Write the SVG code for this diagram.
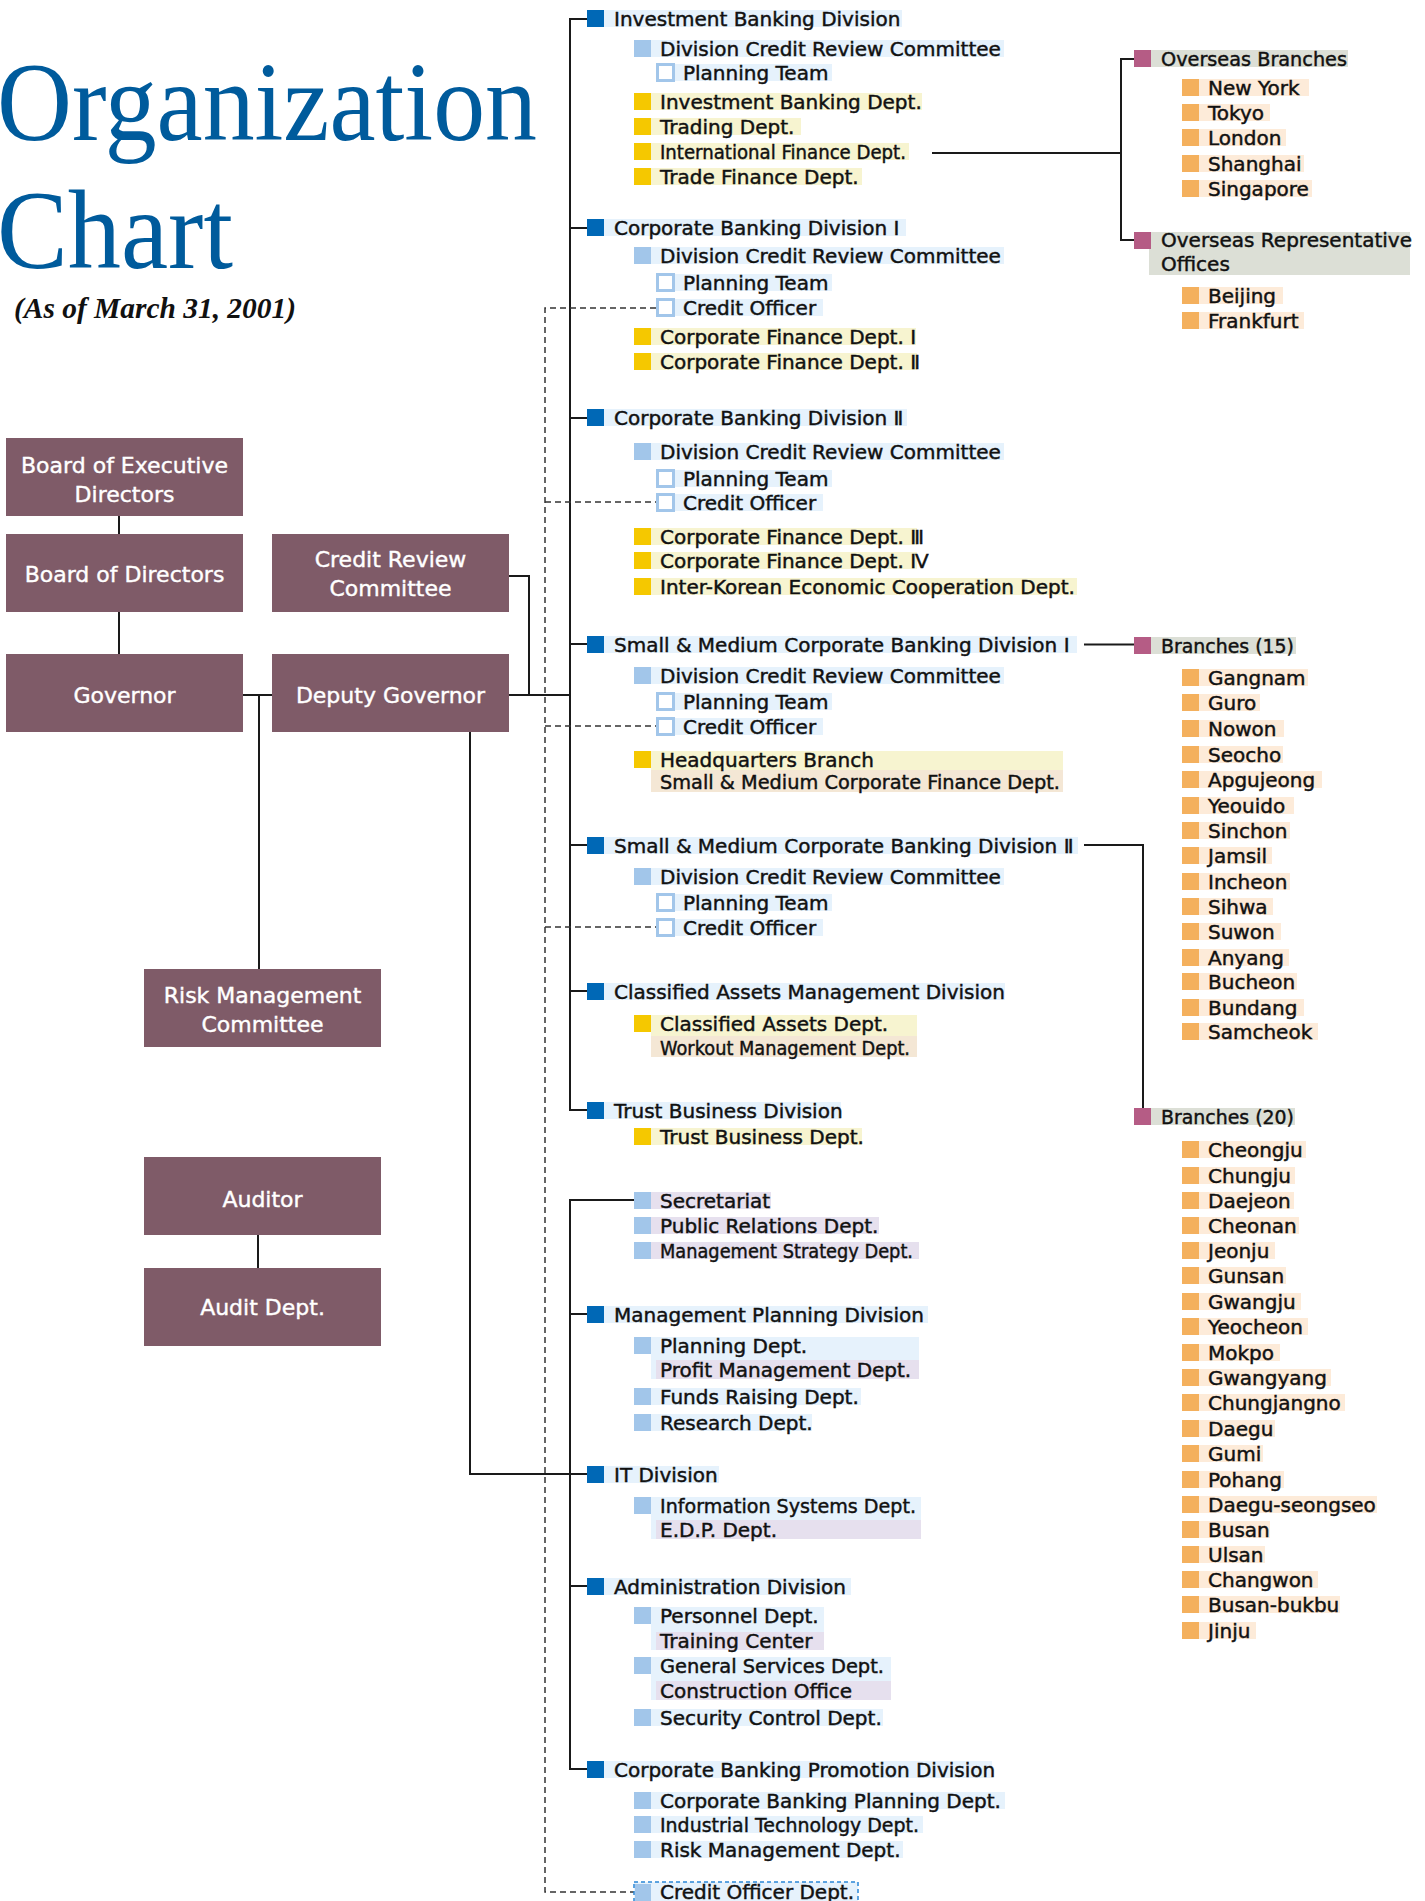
<svg xmlns="http://www.w3.org/2000/svg" width="1425" height="1901" viewBox="0 0 1425 1901">
<style>
.ln{stroke:#1a1a1a;stroke-width:2;fill:none}
.dash{stroke:#333;stroke-width:1.5;stroke-dasharray:6 4;fill:none}
.box{fill:#7f5b68}
.bt{fill:#fff;stroke:#fff;stroke-width:0.4;font-family:"DejaVu Sans",sans-serif;font-size:22px;text-anchor:middle}
.t{font-family:"DejaVu Sans",sans-serif;font-size:20px;fill:#111;stroke:#111;stroke-width:0.45}
.sd{fill:#0068b6}.sl{fill:#a2c6ea}.sy{fill:#f5c800}.sp{fill:#b55c85}.so{fill:#f4b05d}
.ol{fill:#fff;stroke:#a2c6ea;stroke-width:3}
.bb{fill:#e6f2fc}.by{fill:#f7f4d0}.be{fill:#f4e7d5}.bg{fill:#dcdfd6}.bp{fill:#fdebd9}.bl{fill:#e6e0ee}
.ti{font-family:"Liberation Serif",serif;fill:#005b9c}
</style>
<g id="title">
<text class="ti" x="-3" y="140" font-size="112" textLength="540" lengthAdjust="spacingAndGlyphs">Organization</text>
<text class="ti" x="-3" y="268" font-size="112" textLength="236" lengthAdjust="spacingAndGlyphs">Chart</text>
<text x="14" y="318" font-family="Liberation Serif" font-style="italic" font-weight="bold" font-size="29" fill="#111" textLength="282" lengthAdjust="spacingAndGlyphs">(As of March 31, 2001)</text>
</g>
<g id="connectors">
<path class="ln" d="M119 516V534M119 612V654M243 695H272M259 695V969M258 1235V1268M509 576H529V695M509 695H570"/>
<path class="ln" d="M587 19H570V1110H587M570 228H587M570 418H587M570 644H587M570 845H587M570 991H587"/>
<path class="ln" d="M470 732V1474H587M634 1200H570V1769H587M570 1314H587M570 1586H587"/>
<path class="ln" d="M932 153H1121M1134 59H1121V240H1134M1084 644.5H1134M1084 845H1143V1108"/>
<path class="dash" d="M656 308H545V1892H634M545 502H656M545 726H656M545 927H656"/>
</g>
<g id="board-exec"><rect class="box" x="6" y="438" width="237" height="78"/><text class="bt" x="124.5" y="473">Board of Executive</text><text class="bt" x="124.5" y="502">Directors</text></g>
<g id="board"><rect class="box" x="6" y="534" width="237" height="78"/><text class="bt" x="124.5" y="582">Board of Directors</text></g>
<g id="credit-review"><rect class="box" x="272" y="534" width="237" height="78"/><text class="bt" x="390.5" y="567">Credit Review</text><text class="bt" x="390.5" y="596">Committee</text></g>
<g id="governor"><rect class="box" x="6" y="654" width="237" height="78"/><text class="bt" x="124.5" y="703">Governor</text></g>
<g id="deputy"><rect class="box" x="272" y="654" width="237" height="78"/><text class="bt" x="390.5" y="703">Deputy Governor</text></g>
<g id="risk"><rect class="box" x="144" y="969" width="237" height="78"/><text class="bt" x="262.5" y="1003">Risk Management</text><text class="bt" x="262.5" y="1032">Committee</text></g>
<g id="auditor"><rect class="box" x="144" y="1157" width="237" height="78"/><text class="bt" x="262.5" y="1207">Auditor</text></g>
<g id="audit-dept"><rect class="box" x="144" y="1268" width="237" height="78"/><text class="bt" x="262.5" y="1315">Audit Dept.</text></g>

<g id="ib-div"><rect class="bb" x="604" y="10" width="298" height="17"/><rect class="sd" x="587" y="10" width="17" height="17"/><text class="t" x="614" y="26">Investment Banking Division</text>
<rect class="bb" x="651" y="40" width="353" height="17"/><rect class="sl" x="634" y="40" width="17" height="17"/><text class="t" x="660" y="55.5">Division Credit Review Committee</text>
<rect class="bb" x="667" y="64" width="165" height="17"/><rect class="ol" x="657.5" y="64.5" width="16" height="16"/><text class="t" x="683" y="79.5">Planning Team</text>
<rect class="by" x="651" y="93" width="271" height="17"/><rect class="sy" x="634" y="93" width="17" height="17"/><text class="t" x="660" y="108.5">Investment Banking Dept.</text>
<rect class="by" x="651" y="118" width="150" height="17"/><rect class="sy" x="634" y="118" width="17" height="17"/><text class="t" x="660" y="133.5">Trading Dept.</text>
<rect class="by" x="651" y="143" width="258" height="17"/><rect class="sy" x="634" y="143" width="17" height="17"/><text class="t" x="660" y="158.5" textLength="246" lengthAdjust="spacingAndGlyphs">International Finance Dept.</text>
<rect class="by" x="651" y="168" width="211" height="17"/><rect class="sy" x="634" y="168" width="17" height="17"/><text class="t" x="660" y="183.5">Trade Finance Dept.</text></g>

<g id="cb1-div"><rect class="bb" x="604" y="219" width="302" height="17"/><rect class="sd" x="587" y="219" width="17" height="17"/><text class="t" x="614" y="235">Corporate Banking Division Ⅰ</text>
<rect class="bb" x="651" y="247" width="353" height="17"/><rect class="sl" x="634" y="247" width="17" height="17"/><text class="t" x="660" y="262.5">Division Credit Review Committee</text>
<rect class="bb" x="667" y="274" width="165" height="17"/><rect class="ol" x="657.5" y="274.5" width="16" height="16"/><text class="t" x="683" y="289.5">Planning Team</text>
<rect class="bb" x="667" y="299" width="156" height="17"/><rect class="ol" x="657.5" y="299.5" width="16" height="16"/><text class="t" x="683" y="314.5">Credit Officer</text>
<rect class="by" x="651" y="328" width="265" height="17"/><rect class="sy" x="634" y="328" width="17" height="17"/><text class="t" x="660" y="343.5">Corporate Finance Dept. Ⅰ</text>
<rect class="by" x="651" y="353" width="266" height="17"/><rect class="sy" x="634" y="353" width="17" height="17"/><text class="t" x="660" y="368.5">Corporate Finance Dept. Ⅱ</text></g>

<g id="cb2-div"><rect class="bb" x="604" y="409" width="303" height="17"/><rect class="sd" x="587" y="409" width="17" height="17"/><text class="t" x="614" y="425">Corporate Banking Division Ⅱ</text>
<rect class="bb" x="651" y="443" width="353" height="17"/><rect class="sl" x="634" y="443" width="17" height="17"/><text class="t" x="660" y="458.5">Division Credit Review Committee</text>
<rect class="bb" x="667" y="470" width="165" height="17"/><rect class="ol" x="657.5" y="470.5" width="16" height="16"/><text class="t" x="683" y="485.5">Planning Team</text>
<rect class="bb" x="667" y="494" width="156" height="17"/><rect class="ol" x="657.5" y="494.5" width="16" height="16"/><text class="t" x="683" y="509.5">Credit Officer</text>
<rect class="by" x="651" y="528" width="266" height="17"/><rect class="sy" x="634" y="528" width="17" height="17"/><text class="t" x="660" y="543.5">Corporate Finance Dept. Ⅲ</text>
<rect class="by" x="651" y="552" width="266" height="17"/><rect class="sy" x="634" y="552" width="17" height="17"/><text class="t" x="660" y="567.5">Corporate Finance Dept. Ⅳ</text>
<rect class="by" x="651" y="578" width="426" height="17"/><rect class="sy" x="634" y="578" width="17" height="17"/><text class="t" x="660" y="593.5">Inter-Korean Economic Cooperation Dept.</text></g>

<g id="smcb1-div"><rect class="bb" x="604" y="636" width="473" height="17"/><rect class="sd" x="587" y="636" width="17" height="17"/><text class="t" x="614" y="652">Small &amp; Medium Corporate Banking Division Ⅰ</text>
<rect class="bb" x="651" y="667" width="353" height="17"/><rect class="sl" x="634" y="667" width="17" height="17"/><text class="t" x="660" y="682.5">Division Credit Review Committee</text>
<rect class="bb" x="667" y="693" width="165" height="17"/><rect class="ol" x="657.5" y="693.5" width="16" height="16"/><text class="t" x="683" y="708.5">Planning Team</text>
<rect class="bb" x="667" y="718" width="156" height="17"/><rect class="ol" x="657.5" y="718.5" width="16" height="16"/><text class="t" x="683" y="733.5">Credit Officer</text>
<rect class="by" x="651" y="751" width="412" height="19"/><rect class="be" x="651" y="770" width="412" height="22"/><rect class="sy" x="634" y="751" width="17" height="17"/><text class="t" x="660" y="766.5">Headquarters Branch</text><text class="t" x="660" y="789" textLength="400" lengthAdjust="spacingAndGlyphs">Small &amp; Medium Corporate Finance Dept.</text></g>

<g id="smcb2-div"><rect class="bb" x="604" y="837" width="474" height="17"/><rect class="sd" x="587" y="837" width="17" height="17"/><text class="t" x="614" y="853">Small &amp; Medium Corporate Banking Division Ⅱ</text>
<rect class="bb" x="651" y="868" width="353" height="17"/><rect class="sl" x="634" y="868" width="17" height="17"/><text class="t" x="660" y="883.5">Division Credit Review Committee</text>
<rect class="bb" x="667" y="894" width="165" height="17"/><rect class="ol" x="657.5" y="894.5" width="16" height="16"/><text class="t" x="683" y="909.5">Planning Team</text>
<rect class="bb" x="667" y="919" width="156" height="17"/><rect class="ol" x="657.5" y="919.5" width="16" height="16"/><text class="t" x="683" y="934.5">Credit Officer</text></g>

<g id="cam-div"><rect class="bb" x="604" y="983" width="401" height="17"/><rect class="sd" x="587" y="983" width="17" height="17"/><text class="t" x="614" y="999">Classified Assets Management Division</text>
<rect class="by" x="651" y="1015" width="266" height="21"/><rect class="be" x="651" y="1036" width="266" height="21"/><rect class="sy" x="634" y="1015" width="17" height="17"/><text class="t" x="660" y="1030.5">Classified Assets Dept.</text><text class="t" x="660" y="1055" textLength="250" lengthAdjust="spacingAndGlyphs">Workout Management Dept.</text></g>

<g id="tb-div"><rect class="bb" x="604" y="1102" width="237" height="17"/><rect class="sd" x="587" y="1102" width="17" height="17"/><text class="t" x="614" y="1118">Trust Business Division</text>
<rect class="by" x="651" y="1128" width="211" height="17"/><rect class="sy" x="634" y="1128" width="17" height="17"/><text class="t" x="660" y="1143.5">Trust Business Dept.</text></g>

<g id="staff"><rect class="bl" x="651" y="1192" width="120" height="17"/><rect class="sl" x="634" y="1192" width="17" height="17"/><text class="t" x="660" y="1207.5">Secretariat</text>
<rect class="bl" x="651" y="1217" width="228" height="17"/><rect class="sl" x="634" y="1217" width="17" height="17"/><text class="t" x="660" y="1232.5">Public Relations Dept.</text>
<rect class="bl" x="651" y="1242" width="268" height="17"/><rect class="sl" x="634" y="1242" width="17" height="17"/><text class="t" x="660" y="1257.5" textLength="253" lengthAdjust="spacingAndGlyphs">Management Strategy Dept.</text></g>

<g id="mp-div"><rect class="bb" x="604" y="1306" width="324" height="17"/><rect class="sd" x="587" y="1306" width="17" height="17"/><text class="t" x="614" y="1322">Management Planning Division</text>
<rect class="bb" x="651" y="1337" width="268" height="42"/><rect class="bl" x="656" y="1360" width="263" height="19"/><rect class="sl" x="634" y="1337" width="17" height="17"/><text class="t" x="660" y="1352.5">Planning Dept.</text><text class="t" x="660" y="1377">Profit Management Dept.</text>
<rect class="bb" x="651" y="1388" width="210" height="17"/><rect class="sl" x="634" y="1388" width="17" height="17"/><text class="t" x="660" y="1403.5">Funds Raising Dept.</text>
<rect class="bb" x="651" y="1414" width="161" height="17"/><rect class="sl" x="634" y="1414" width="17" height="17"/><text class="t" x="660" y="1429.5">Research Dept.</text></g>

<g id="it-div"><rect class="bb" x="604" y="1466" width="115" height="17"/><rect class="sd" x="587" y="1466" width="17" height="17"/><text class="t" x="614" y="1482">IT Division</text>
<rect class="bb" x="651" y="1497" width="270" height="42"/><rect class="bl" x="656" y="1520" width="265" height="19"/><rect class="sl" x="634" y="1497" width="17" height="17"/><text class="t" x="660" y="1512.5" textLength="256" lengthAdjust="spacingAndGlyphs">Information Systems Dept.</text><text class="t" x="660" y="1537">E.D.P. Dept.</text></g>

<g id="admin-div"><rect class="bb" x="604" y="1578" width="247" height="17"/><rect class="sd" x="587" y="1578" width="17" height="17"/><text class="t" x="614" y="1594">Administration Division</text>
<rect class="bb" x="651" y="1607" width="173" height="43"/><rect class="bl" x="656" y="1632" width="168" height="18"/><rect class="sl" x="634" y="1607" width="17" height="17"/><text class="t" x="660" y="1622.5">Personnel Dept.</text><text class="t" x="660" y="1648">Training Center</text>
<rect class="bb" x="651" y="1657" width="240" height="43"/><rect class="bl" x="656" y="1681" width="235" height="19"/><rect class="sl" x="634" y="1657" width="17" height="17"/><text class="t" x="660" y="1672.5" textLength="224" lengthAdjust="spacingAndGlyphs">General Services Dept.</text><text class="t" x="660" y="1698">Construction Office</text>
<rect class="bb" x="651" y="1709" width="232" height="17"/><rect class="sl" x="634" y="1709" width="17" height="17"/><text class="t" x="660" y="1724.5">Security Control Dept.</text></g>

<g id="cbp-div"><rect class="bb" x="604" y="1761" width="388" height="17"/><rect class="sd" x="587" y="1761" width="17" height="17"/><text class="t" x="614" y="1777">Corporate Banking Promotion Division</text>
<rect class="bb" x="651" y="1792" width="354" height="17"/><rect class="sl" x="634" y="1792" width="17" height="17"/><text class="t" x="660" y="1807.5">Corporate Banking Planning Dept.</text>
<rect class="bb" x="651" y="1816" width="272" height="17"/><rect class="sl" x="634" y="1816" width="17" height="17"/><text class="t" x="660" y="1831.5" textLength="259" lengthAdjust="spacingAndGlyphs">Industrial Technology Dept.</text>
<rect class="bb" x="651" y="1841" width="252" height="17"/><rect class="sl" x="634" y="1841" width="17" height="17"/><text class="t" x="660" y="1856.5">Risk Management Dept.</text></g>

<g id="credit-officer-dept"><rect class="bb" x="634" y="1882" width="224" height="24" stroke="#2a86d6" stroke-width="1.5" stroke-dasharray="4 3"/><rect class="sl" x="635" y="1884" width="16" height="17"/><text class="t" x="660" y="1899">Credit Officer Dept.</text></g>

<g id="overseas-branches"><rect class="bg" x="1151" y="50" width="197" height="17"/><rect class="sp" x="1134" y="50" width="17" height="17"/><text class="t" x="1161" y="66" textLength="186" lengthAdjust="spacingAndGlyphs">Overseas Branches</text>
<rect class="bp" x="1199" y="79" width="110" height="17"/><rect class="so" x="1182" y="79" width="17" height="17"/><text class="t" x="1208" y="94.5">New York</text>
<rect class="bp" x="1199" y="104" width="71" height="17"/><rect class="so" x="1182" y="104" width="17" height="17"/><text class="t" x="1208" y="119.5">Tokyo</text>
<rect class="bp" x="1199" y="129" width="87" height="17"/><rect class="so" x="1182" y="129" width="17" height="17"/><text class="t" x="1208" y="144.5">London</text>
<rect class="bp" x="1199" y="155" width="105" height="17"/><rect class="so" x="1182" y="155" width="17" height="17"/><text class="t" x="1208" y="170.5">Shanghai</text>
<rect class="bp" x="1199" y="180" width="113" height="17"/><rect class="so" x="1182" y="180" width="17" height="17"/><text class="t" x="1208" y="195.5">Singapore</text></g>

<g id="overseas-rep"><rect class="bg" x="1149" y="232" width="261" height="43"/><rect class="sp" x="1134" y="232" width="17" height="17"/><text class="t" x="1161" y="247">Overseas Representative</text><text class="t" x="1161" y="271">Offices</text>
<rect class="bp" x="1199" y="287" width="84" height="17"/><rect class="so" x="1182" y="287" width="17" height="17"/><text class="t" x="1208" y="302.5">Beijing</text>
<rect class="bp" x="1199" y="312" width="105" height="17"/><rect class="so" x="1182" y="312" width="17" height="17"/><text class="t" x="1208" y="327.5">Frankfurt</text></g>

<g id="branches-15"><rect class="bg" x="1151" y="637" width="145" height="17"/><rect class="sp" x="1134" y="637" width="17" height="17"/><text class="t" x="1161" y="653" textLength="133" lengthAdjust="spacingAndGlyphs">Branches (15)</text>
<rect class="bp" x="1199" y="669" width="109" height="17"/><rect class="so" x="1182" y="669" width="17" height="17"/><text class="t" x="1208" y="684.5">Gangnam</text>
<rect class="bp" x="1199" y="694" width="61" height="17"/><rect class="so" x="1182" y="694" width="17" height="17"/><text class="t" x="1208" y="709.5">Guro</text>
<rect class="bp" x="1199" y="720" width="85" height="17"/><rect class="so" x="1182" y="720" width="17" height="17"/><text class="t" x="1208" y="735.5">Nowon</text>
<rect class="bp" x="1199" y="746" width="84" height="17"/><rect class="so" x="1182" y="746" width="17" height="17"/><text class="t" x="1208" y="761.5">Seocho</text>
<rect class="bp" x="1199" y="771" width="123" height="17"/><rect class="so" x="1182" y="771" width="17" height="17"/><text class="t" x="1208" y="786.5">Apgujeong</text>
<rect class="bp" x="1199" y="797" width="95" height="17"/><rect class="so" x="1182" y="797" width="17" height="17"/><text class="t" x="1208" y="812.5">Yeouido</text>
<rect class="bp" x="1199" y="822" width="91" height="17"/><rect class="so" x="1182" y="822" width="17" height="17"/><text class="t" x="1208" y="837.5">Sinchon</text>
<rect class="bp" x="1199" y="847" width="73" height="17"/><rect class="so" x="1182" y="847" width="17" height="17"/><text class="t" x="1208" y="862.5">Jamsil</text>
<rect class="bp" x="1199" y="873" width="91" height="17"/><rect class="so" x="1182" y="873" width="17" height="17"/><text class="t" x="1208" y="888.5">Incheon</text>
<rect class="bp" x="1199" y="898" width="74" height="17"/><rect class="so" x="1182" y="898" width="17" height="17"/><text class="t" x="1208" y="913.5">Sihwa</text>
<rect class="bp" x="1199" y="923" width="82" height="17"/><rect class="so" x="1182" y="923" width="17" height="17"/><text class="t" x="1208" y="938.5">Suwon</text>
<rect class="bp" x="1199" y="949" width="90" height="17"/><rect class="so" x="1182" y="949" width="17" height="17"/><text class="t" x="1208" y="964.5">Anyang</text>
<rect class="bp" x="1199" y="973" width="98" height="17"/><rect class="so" x="1182" y="973" width="17" height="17"/><text class="t" x="1208" y="988.5">Bucheon</text>
<rect class="bp" x="1199" y="999" width="105" height="17"/><rect class="so" x="1182" y="999" width="17" height="17"/><text class="t" x="1208" y="1014.5">Bundang</text>
<rect class="bp" x="1199" y="1023" width="119" height="17"/><rect class="so" x="1182" y="1023" width="17" height="17"/><text class="t" x="1208" y="1038.5">Samcheok</text></g>

<g id="branches-20"><rect class="bg" x="1151" y="1108" width="144" height="17"/><rect class="sp" x="1134" y="1108" width="17" height="17"/><text class="t" x="1161" y="1124" textLength="133" lengthAdjust="spacingAndGlyphs">Branches (20)</text>
<rect class="bp" x="1199" y="1141" width="107" height="17"/><rect class="so" x="1182" y="1141" width="17" height="17"/><text class="t" x="1208" y="1156.5">Cheongju</text>
<rect class="bp" x="1199" y="1167" width="96" height="17"/><rect class="so" x="1182" y="1167" width="17" height="17"/><text class="t" x="1208" y="1182.5">Chungju</text>
<rect class="bp" x="1199" y="1192" width="95" height="17"/><rect class="so" x="1182" y="1192" width="17" height="17"/><text class="t" x="1208" y="1207.5">Daejeon</text>
<rect class="bp" x="1199" y="1217" width="100" height="17"/><rect class="so" x="1182" y="1217" width="17" height="17"/><text class="t" x="1208" y="1232.5">Cheonan</text>
<rect class="bp" x="1199" y="1242" width="76" height="17"/><rect class="so" x="1182" y="1242" width="17" height="17"/><text class="t" x="1208" y="1257.5">Jeonju</text>
<rect class="bp" x="1199" y="1267" width="87" height="17"/><rect class="so" x="1182" y="1267" width="17" height="17"/><text class="t" x="1208" y="1282.5">Gunsan</text>
<rect class="bp" x="1199" y="1293" width="102" height="17"/><rect class="so" x="1182" y="1293" width="17" height="17"/><text class="t" x="1208" y="1308.5">Gwangju</text>
<rect class="bp" x="1199" y="1318" width="109" height="17"/><rect class="so" x="1182" y="1318" width="17" height="17"/><text class="t" x="1208" y="1333.5">Yeocheon</text>
<rect class="bp" x="1199" y="1344" width="81" height="17"/><rect class="so" x="1182" y="1344" width="17" height="17"/><text class="t" x="1208" y="1359.5">Mokpo</text>
<rect class="bp" x="1199" y="1369" width="132" height="17"/><rect class="so" x="1182" y="1369" width="17" height="17"/><text class="t" x="1208" y="1384.5">Gwangyang</text>
<rect class="bp" x="1199" y="1394" width="146" height="17"/><rect class="so" x="1182" y="1394" width="17" height="17"/><text class="t" x="1208" y="1409.5">Chungjangno</text>
<rect class="bp" x="1199" y="1420" width="76" height="17"/><rect class="so" x="1182" y="1420" width="17" height="17"/><text class="t" x="1208" y="1435.5">Daegu</text>
<rect class="bp" x="1199" y="1445" width="64" height="17"/><rect class="so" x="1182" y="1445" width="17" height="17"/><text class="t" x="1208" y="1460.5">Gumi</text>
<rect class="bp" x="1199" y="1471" width="85" height="17"/><rect class="so" x="1182" y="1471" width="17" height="17"/><text class="t" x="1208" y="1486.5">Pohang</text>
<rect class="bp" x="1199" y="1496" width="178" height="17"/><rect class="so" x="1182" y="1496" width="17" height="17"/><text class="t" x="1208" y="1511.5">Daegu-seongseo</text>
<rect class="bp" x="1199" y="1521" width="71" height="17"/><rect class="so" x="1182" y="1521" width="17" height="17"/><text class="t" x="1208" y="1536.5">Busan</text>
<rect class="bp" x="1199" y="1546" width="66" height="17"/><rect class="so" x="1182" y="1546" width="17" height="17"/><text class="t" x="1208" y="1561.5">Ulsan</text>
<rect class="bp" x="1199" y="1571" width="119" height="17"/><rect class="so" x="1182" y="1571" width="17" height="17"/><text class="t" x="1208" y="1586.5">Changwon</text>
<rect class="bp" x="1199" y="1596" width="141" height="17"/><rect class="so" x="1182" y="1596" width="17" height="17"/><text class="t" x="1208" y="1611.5">Busan-bukbu</text>
<rect class="bp" x="1199" y="1622" width="57" height="17"/><rect class="so" x="1182" y="1622" width="17" height="17"/><text class="t" x="1208" y="1637.5">Jinju</text></g>
</svg>
